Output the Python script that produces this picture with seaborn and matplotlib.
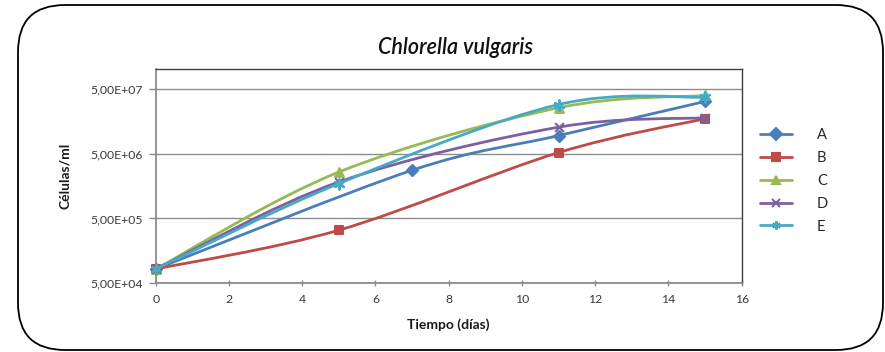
import numpy as np
import pandas as pd
import matplotlib
matplotlib.use("Agg")
import matplotlib.pyplot as plt
import seaborn as sns
from matplotlib.path import Path
from matplotlib.patches import PathPatch, FancyBboxPatch
from matplotlib.lines import Line2D
from matplotlib.ticker import FixedLocator, FixedFormatter, NullLocator

# ---- data ----
series_names = ["A", "B", "C", "D", "E"]
days_A = [0, 7, 11, 15]
cells_A = [8.3e4, 2.77e6, 9.5e6, 3.19e7]
days_B = [0, 5, 11, 15]
cells_B = [8.3e4, 3.3e5, 5.2e6, 1.73e7]
days_C = [0, 5, 11, 15]
cells_C = [8.3e4, 2.6e6, 2.55e7, 3.95e7]
days_D = [0, 5, 11, 15]
cells_D = [8.3e4, 1.83e6, 1.28e7, 1.79e7]
days_E = [0, 5, 11, 15]
cells_E = [8.3e4, 1.73e6, 2.86e7, 3.71e7]
y_ticks = [5e4, 5e5, 5e6, 5e7]
y_tick_labels = ["5,00E+04", "5,00E+05", "5,00E+06", "5,00E+07"]
x_ticks = [0, 2, 4, 6, 8, 10, 12, 14, 16]

colors = {"A": "#4A7EBB", "B": "#BE4B48", "C": "#98B954", "D": "#7D60A0", "E": "#46AAC5"}
markers = {"A": "D", "B": "s", "C": "^", "D": "x", "E": (6, 2, 0)}
msizes = {"A": 32, "B": 40, "C": 40, "D": 40, "E": 55}

days = {"A": days_A, "B": days_B, "C": days_C, "D": days_D, "E": days_E}
cells = {"A": cells_A, "B": cells_B, "C": cells_C, "D": cells_D, "E": cells_E}

df = pd.concat([pd.DataFrame({"dia": days[s], "cel": cells[s], "serie": s}) for s in series_names],
               ignore_index=True)

sns.set_theme(style="white")
plt.rcParams["font.family"] = ["Lato", "DejaVu Sans"]

fig = plt.figure(figsize=(8.85, 3.52), dpi=100)
ax = fig.add_axes([155.7 / 885, 1 - 283.3 / 352, (741.7 - 155.7) / 885, (283.3 - 69.3) / 352])

# rounded outer frame (in inches)
frame = FancyBboxPatch((0.18, 0.02), 8.83 - 0.18, 3.47 - 0.02,
                       boxstyle="round,pad=0,rounding_size=0.47", transform=fig.dpi_scale_trans,
                       facecolor="none", edgecolor="black", linewidth=1.3)
fig.patches.append(frame)


def smooth_path(xs, ys):
    P = np.column_stack([np.asarray(xs, float), np.log10(np.asarray(ys, float))])
    n = len(P)
    verts = [P[0]]
    codes = [Path.MOVETO]
    for i in range(n - 1):
        p0 = P[i - 1] if i > 0 else P[i]
        p3 = P[i + 2] if i + 2 < n else P[i + 1]
        c1 = P[i] + (P[i + 1] - p0) / 6.0
        c2 = P[i + 1] - (p3 - P[i]) / 6.0
        verts += [c1, c2, P[i + 1]]
        codes += [Path.CURVE4] * 3
    V = np.array(verts)
    V[:, 1] = 10 ** V[:, 1]
    return Path(V, codes)


ax.set_yscale("log")
ax.set_xlim(0, 16)
ax.set_ylim(5e4, 1e8)

for i, s in enumerate(series_names):
    ax.add_patch(PathPatch(smooth_path(days[s], cells[s]), facecolor="none",
                           edgecolor=colors[s], linewidth=2.0, zorder=3 + i * 0.1))
    sub = df[df["serie"] == s]
    sns.scatterplot(data=sub, x="dia", y="cel", ax=ax, color=colors[s], marker=markers[s],
                    s=msizes[s], edgecolor=colors[s], linewidth=1.5, legend=False,
                    zorder=3.05 + i * 0.1, clip_on=False)

ax.set_yscale("log")
ax.set_xlim(0, 16)
ax.set_ylim(5e4, 1e8)

grid_c = "#8C8C8C"
ax.yaxis.set_major_locator(FixedLocator(y_ticks))
ax.yaxis.set_major_formatter(FixedFormatter(y_tick_labels))
ax.yaxis.set_minor_locator(NullLocator())
ax.set_xticks(x_ticks)
ax.set_xticklabels([str(v) for v in x_ticks])
ax.grid(axis="y", color=grid_c, linewidth=1.0)
ax.grid(axis="x", visible=False)
ax.set_axisbelow(True)

for side in ["left", "bottom"]:
    ax.spines[side].set_color(grid_c)
    ax.spines[side].set_linewidth(1.3)
for side in ["top", "right"]:
    ax.spines[side].set_color("#404040")
    ax.spines[side].set_linewidth(1.0)

ax.tick_params(axis="y", which="major", left=True, length=5, width=1, color=grid_c,
               labelsize=8.8, labelcolor="#3A3A3A", pad=4)
ax.tick_params(axis="x", which="major", bottom=True, length=4, width=1, color=grid_c,
               direction="inout", labelsize=8.8, labelcolor="#3A3A3A", pad=6)

ax.set_xlabel("Tiempo (días)", fontsize=10, fontweight="bold", color="#1A1A1A", labelpad=9)
ax.set_ylabel("Células/ml", fontsize=10, fontweight="bold", color="#1A1A1A", labelpad=14)

fig.text(455 / 885, 1 - 47 / 352, "Chlorella vulgaris", ha="center", va="center",
         fontsize=15.5, style="italic", fontweight="semibold", color="#111111")

handles = [Line2D([0], [0], color=colors[s], marker=markers[s], markersize=6, linewidth=2.0,
                  markeredgecolor=colors[s], markeredgewidth=1.5) for s in series_names]
fig.legend(handles, series_names, loc="upper left", bbox_to_anchor=(760 / 885, 1 - 128 / 352),
           frameon=False, fontsize=10.5, handlelength=2.2, handletextpad=1.7,
           labelspacing=0.61, borderpad=0, borderaxespad=0)

fig.savefig("out.png", dpi=100)
